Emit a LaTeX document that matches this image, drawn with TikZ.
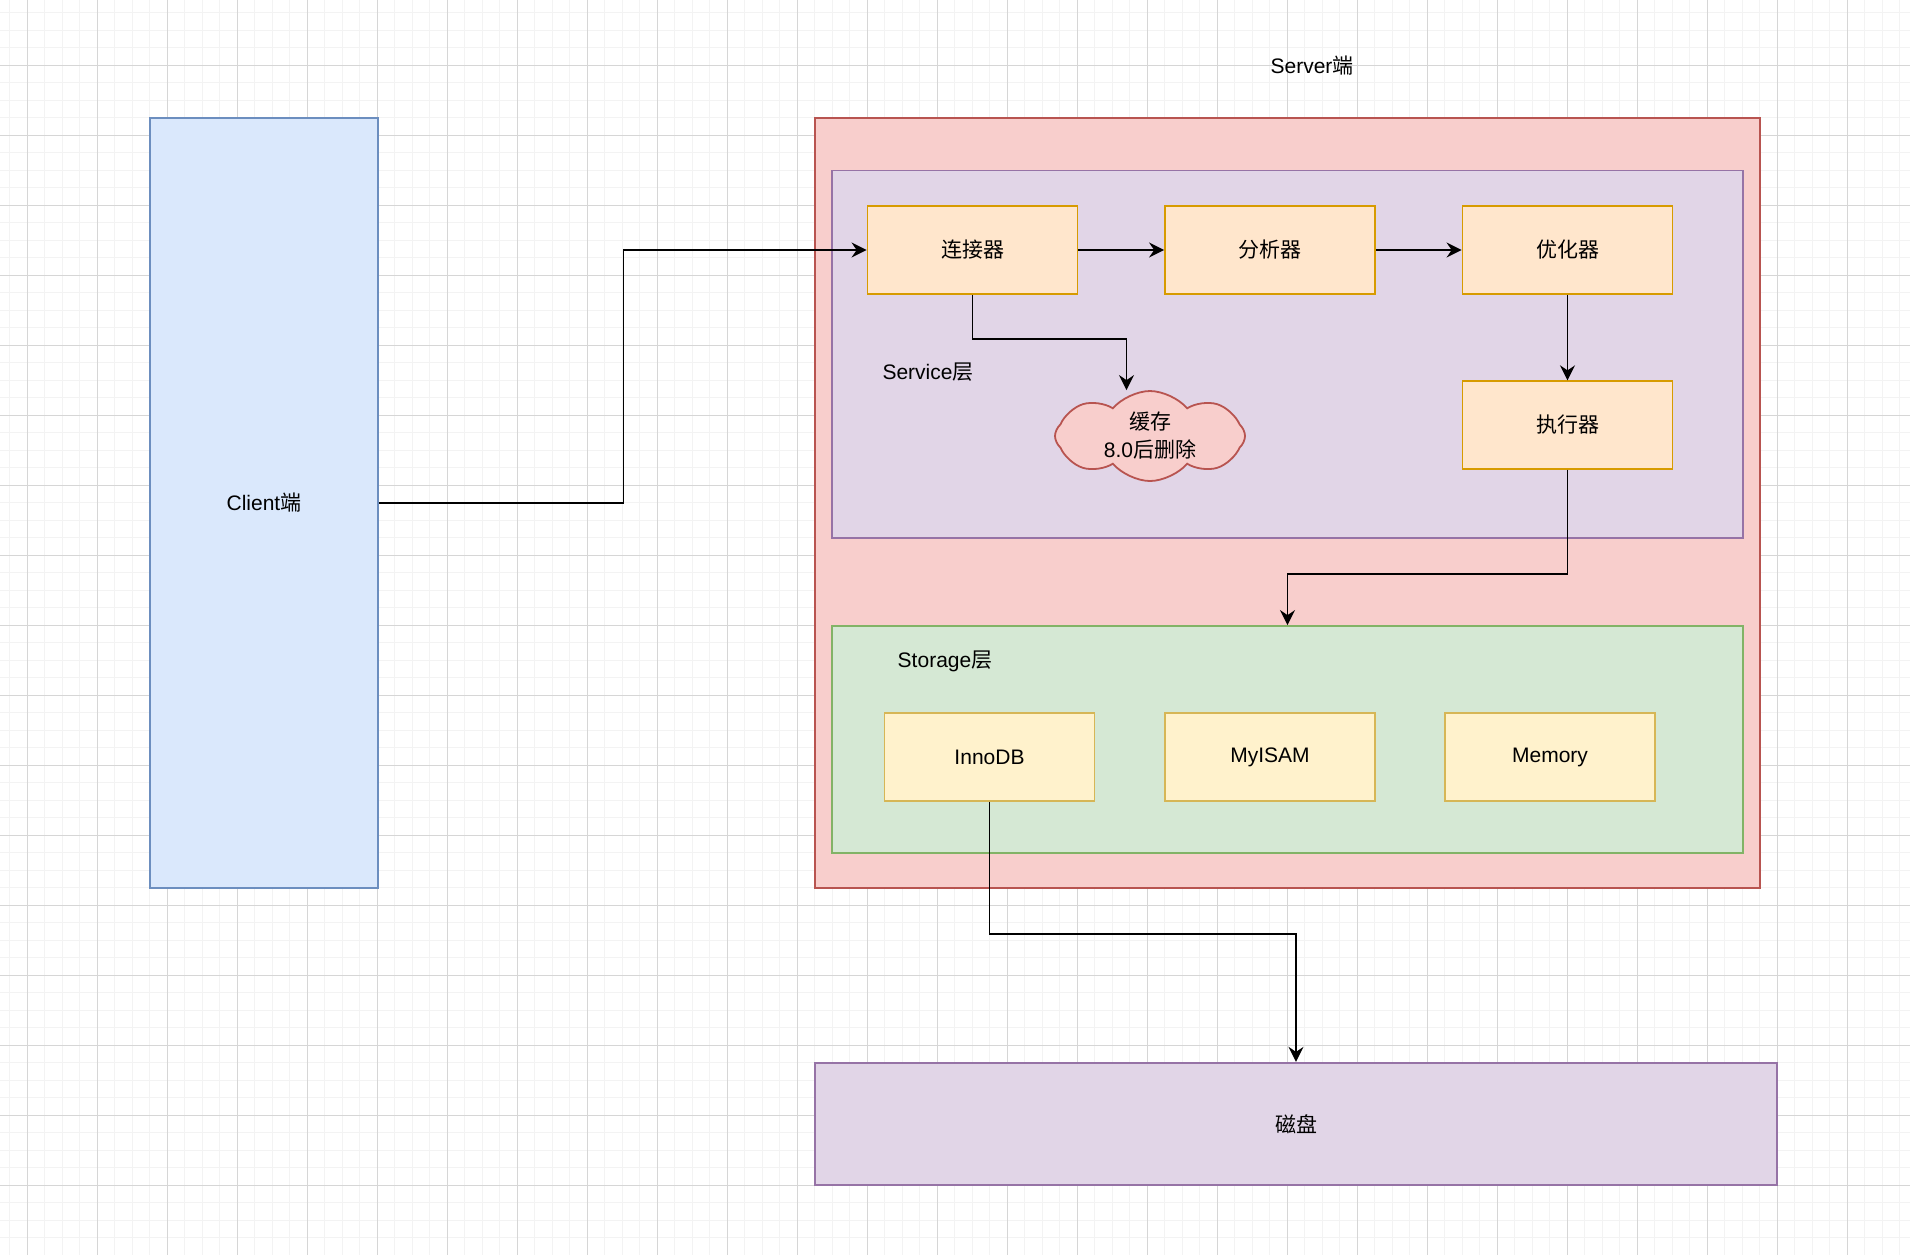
\documentclass[tikz,border=0pt]{standalone}
\usepackage{fontspec}
\setmainfont{Liberation Sans}
\newfontfamily\cjk{Noto Sans CJK SC}
\usepackage{xcolor}
\usetikzlibrary{arrows.meta, positioning, shapes.symbols}

\definecolor{blueFill}{HTML}{DAE8FC}
\definecolor{blueLine}{HTML}{6C8EBF}
\definecolor{redFill}{HTML}{F8CECC}
\definecolor{redLine}{HTML}{B85450}
\definecolor{purpleFill}{HTML}{E1D5E7}
\definecolor{purpleLine}{HTML}{9673A6}
\definecolor{greenFill}{HTML}{D5E8D4}
\definecolor{greenLine}{HTML}{82B366}
\definecolor{orangeFill}{HTML}{FFE6CC}
\definecolor{orangeLine}{HTML}{D79B00}
\definecolor{yellowFill}{HTML}{FFF2CC}
\definecolor{yellowLine}{HTML}{D6B656}
\definecolor{gridMinor}{HTML}{F3F3F3}
\definecolor{gridMajor}{HTML}{D6D6D6}

\tikzset{
    panel/.style={draw, line width=0.9pt, inner sep=0pt},
    module/.style={panel, fill=orangeFill, draw=orangeLine, minimum width=105pt, minimum height=43.75pt},
    engine/.style={panel, fill=yellowFill, draw=yellowLine, minimum width=105pt, minimum height=43.75pt},
    flow/.style={-{Stealth[length=7.5pt, width=7.5pt, inset=2.5pt]}, line width=0.9pt},
}

\begin{document}
\begin{tikzpicture}[x=0.5pt, y=-0.5pt, every node/.style={font=\fontsize{10.5}{14}\selectfont}]
    \useasboundingbox (0,0) rectangle (1910,1255);
    % 背景网格
    \foreach \x in {9.8,27.3,...,1910} {
        \draw[gridMinor, line width=0.5pt] (\x,0) -- (\x,1255);
    }
    \foreach \y in {12.8,30.3,...,1255} {
        \draw[gridMinor, line width=0.5pt] (0,\y) -- (1910,\y);
    }
    \foreach \x in {27.3,97.3,...,1910} {
        \draw[gridMajor, line width=0.5pt] (\x,0) -- (\x,1255);
    }
    \foreach \y in {65.3,135.3,...,1255} {
        \draw[gridMajor, line width=0.5pt] (0,\y) -- (1910,\y);
    }

    % 客户端与服务端
    \node[panel, fill=blueFill, draw=blueLine, minimum width=114pt, minimum height=385pt] (client) at (264,503) {Client{\cjk 端}};
    \node[panel, fill=redFill, draw=redLine, minimum width=472.5pt, minimum height=385pt] (server) at (1287.5,503) {};
    \node (serverLabel) at (1312,66) {Server{\cjk 端}};

    % Service层
    \node[panel, fill=purpleFill, draw=purpleLine, minimum width=455.5pt, minimum height=183.75pt] (service) at (1287.5,354.25) {};
    \node (serviceLabel) at (928,372) {Service{\cjk 层}};
    \node[module] (conn) at (972.5,250) {\cjk 连接器};
    \node[module] (parser) at (1270,250) {\cjk 分析器};
    \node[module] (opt) at (1567.5,250) {\cjk 优化器};
    \node[module] (exec) at (1567.5,425) {\cjk 执行器};
    \node[cloud, cloud puffs=8, cloud puff arc=100, aspect=2.1, fill=redFill, draw=redLine, line width=0.9pt,
          minimum width=95pt, minimum height=45pt, inner sep=0pt, align=center] (cache) at (1150,436)
          {{\cjk 缓存}\\8.0{\cjk 后删除}};

    % Storage层
    \node[panel, fill=greenFill, draw=greenLine, minimum width=455.5pt, minimum height=113.5pt] (storage) at (1287.5,739.5) {};
    \node (storageLabel) at (945,661) {Storage{\cjk 层}};
    \node[engine] (innodb) at (989.5,757) {InnoDB};
    \node[engine] (myisam) at (1270,757) {MyISAM};
    \node[engine] (memory) at (1550,757) {Memory};

    % 磁盘
    \node[panel, fill=purpleFill, draw=purpleLine, minimum width=481.25pt, minimum height=61.25pt] (disk) at (1296,1124) {\cjk 磁盘};

    % 连线
    \draw[flow] (client.east) -- ++(244.5,0) |- (conn.west);
    \draw[flow] (conn) -- (parser);
    \draw[flow] (parser) -- (opt);
    \draw[flow] (opt) -- (exec);
    \draw[flow] (conn.south) -- ++(0,44) -| ([xshift=-11.75pt]cache.north);
    \draw[flow] (exec.south) -- ++(0,104.5) -| (storage.north);
    \draw[flow] (innodb.south) -- ++(0,132) -| (disk.north);
\end{tikzpicture}
\end{document}
